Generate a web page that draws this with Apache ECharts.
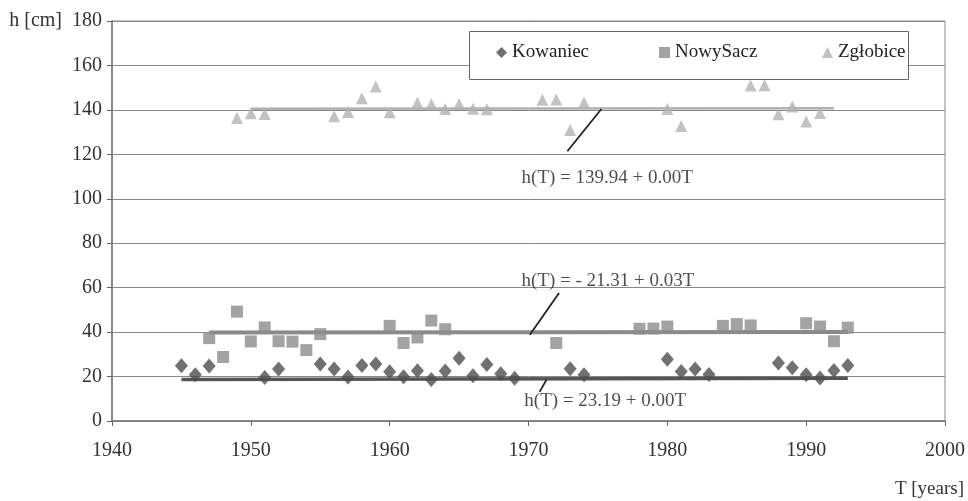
<!DOCTYPE html>
<html>
<head>
<meta charset="utf-8">
<script src="https://cdn.jsdelivr.net/npm/echarts@6/dist/echarts.min.js"></script>
<style>html,body{margin:0;padding:0;background:#fff}#c{width:968px;height:501px}</style>
</head>
<body>
<div id="c"></div>
<script>
// ---- data ----
const seriesNames = ['Kowaniec', 'NowySacz', 'Zgłobice'];

const kowaniecYears = [1945,1946,1947,1951,1952,1955,1956,1957,1958,1959,1960,1961,1962,1963,1964,1965,1966,1967,1968,1969,1973,1974,1980,1981,1982,1983,1988,1989,1990,1991,1992,1993];
const kowaniecH     = [24.9,20.8,24.7,19.6,23.4,25.6,23.4,19.8,25.0,25.6,22.2,19.9,22.6,18.7,22.5,28.2,20.4,25.4,21.3,19.2,23.5,20.8,27.8,22.3,23.4,20.9,26.1,24.0,20.8,19.3,22.7,25.0];

const nowySaczYears = [1947,1948,1949,1950,1951,1952,1953,1954,1955,1960,1961,1962,1963,1964,1972,1978,1979,1980,1984,1985,1986,1990,1991,1992,1993];
const nowySaczH     = [37.3,28.8,49.2,35.8,42.1,35.9,35.7,31.9,39.1,42.8,35.1,37.6,45.2,41.3,35.1,41.5,41.6,42.5,42.8,43.6,43.0,44.0,42.5,35.9,42.0];

const zglobiceYears = [1949,1950,1951,1956,1957,1958,1959,1960,1962,1963,1964,1965,1966,1967,1971,1972,1973,1974,1980,1981,1986,1987,1988,1989,1990,1991];
const zglobiceH     = [136.3,138.5,138.2,137.1,139.1,145.2,150.5,138.9,143.2,142.5,140.4,142.7,140.5,140.3,144.6,144.7,130.9,143.3,140.4,132.7,151.0,151.1,138.0,141.5,134.8,138.6];

// trend lines (end points)
const kowTrendYears = [1945, 1993];
const kowTrendH     = [18.7, 19.2];
const nsTrendYears  = [1947, 1993];
const nsTrendH      = [39.8, 40.1];
const zgTrendYears  = [1950, 1992];
const zgTrendH      = [140.5, 140.7];

// equation labels and their leader lines
const eqTexts = ['h(T) = 139.94 + 0.00T', 'h(T) = - 21.31 + 0.03T', 'h(T) = 23.19 + 0.00T'];
const eqYears = [1969.5, 1969.5, 1969.7];
const eqH     = [109.5, 63.0, 9.0];
const leaderZgYears = [1972.8, 1975.25];
const leaderZgH     = [121.4, 140.4];
const leaderNsYears = [1970.1, 1972.2];
const leaderNsH     = [38.8, 57.6];
const leaderKwYears = [1970.8, 1971.3];
const leaderKwH     = [13.1, 18.6];

// axis ticks
const xMin = 1940, xMax = 2000, xStep = 10;
const yMin = 0, yMax = 180, yStep = 20;

// ---- build ----
const zip = (a, b) => a.map((v, i) => [v, b[i]]);
const serif = '"Liberation Serif", "DejaVu Serif", serif';

const chart = echarts.init(document.getElementById('c'), null, {renderer: 'canvas'});

const lineSeries = (name, data, color, width, z) => ({
  name, type: 'line', data, symbol: 'none', silent: true, z,
  lineStyle: {color, width}, legendHoverLink: false
});

const option = {
  backgroundColor: '#fff',
  animation: false,
  grid: {left: 112, right: 21, top: 21, bottom: 80, show: true, borderColor: '#8a8a8a', borderWidth: 1},
  xAxis: {
    type: 'value', min: xMin, max: xMax, interval: xStep,
    name: 'T [years]', nameLocation: 'end', nameGap: 19,
    nameTextStyle: {fontFamily: serif, fontSize: 19, color: '#333', align: 'right', verticalAlign: 'top', padding: [59, 0, 0, 0]},
    axisLine: {show: true, lineStyle: {color: '#777', width: 1.5}},
    axisTick: {show: true, length: 5, lineStyle: {color: '#666'}},
    axisLabel: {fontFamily: serif, fontSize: 20, color: '#333', margin: 20, formatter: v => String(v)},
    splitLine: {show: false}
  },
  yAxis: {
    type: 'value', min: yMin, max: yMax, interval: yStep,
    name: 'h [cm]', nameLocation: 'end', nameGap: 0,
    nameTextStyle: {fontFamily: serif, fontSize: 20, color: '#333', align: 'right', verticalAlign: 'middle', padding: [0, 50, 0, 0]},
    axisLine: {show: true, lineStyle: {color: '#777', width: 1.5}},
    axisTick: {show: true, length: 5, lineStyle: {color: '#666'}},
    axisLabel: {fontFamily: serif, fontSize: 20, color: '#333', margin: 10},
    splitLine: {show: true, lineStyle: {color: '#888', width: 1}}
  },
  legend: seriesNames.map((n, i) => ({
    data: [n], left: [496, 659, 822][i], top: 43, z: 6, padding: 0,
    itemWidth: 11, itemHeight: 11, itemGap: 5,
    textStyle: {fontFamily: serif, fontSize: 19, color: '#222'}
  })),
  graphic: [{
    type: 'rect', z: 5, left: 469, top: 31,
    shape: {width: 439, height: 48},
    style: {fill: '#fff', stroke: '#666', lineWidth: 1}
  }],
  series: [
    lineSeries('trendKw', zip(kowTrendYears, kowTrendH), '#555', 3.5, 2),
    lineSeries('trendNs', zip(nsTrendYears, nsTrendH), '#8a8a8a', 4, 2),
    lineSeries('trendZg', zip(zgTrendYears, zgTrendH), '#b0b0b0', 2.5, 2),
    lineSeries('leadZg', zip(leaderZgYears, leaderZgH), '#222', 1.8, 4),
    lineSeries('leadNs', zip(leaderNsYears, leaderNsH), '#222', 1.8, 4),
    lineSeries('leadKw', zip(leaderKwYears, leaderKwH), '#222', 1.8, 4),
    {name: 'Kowaniec', type: 'scatter', symbol: 'diamond', symbolSize: [13, 15], z: 3,
     itemStyle: {color: '#4d4d4d'}, data: zip(kowaniecYears, kowaniecH)},
    {name: 'NowySacz', type: 'scatter', symbol: 'rect', symbolSize: 12, z: 3,
     itemStyle: {color: '#8c8c8c'}, data: zip(nowySaczYears, nowySaczH)},
    {name: 'Zgłobice', type: 'scatter', symbol: 'triangle', symbolSize: [12, 12], z: 3,
     itemStyle: {color: '#b3b3b3'}, data: zip(zglobiceYears, zglobiceH)},
    {name: 'equations', type: 'scatter', symbolSize: 0, silent: true, z: 5,
     data: eqYears.map((y, i) => ({value: [y, eqH[i]], name: eqTexts[i]})),
     label: {show: true, position: [0, 0], align: 'left', verticalAlign: 'middle',
             formatter: p => p.name, fontFamily: serif, fontSize: 19, color: '#222'}}
  ]
};
chart.setOption(option);
</script>
</body>
</html>
